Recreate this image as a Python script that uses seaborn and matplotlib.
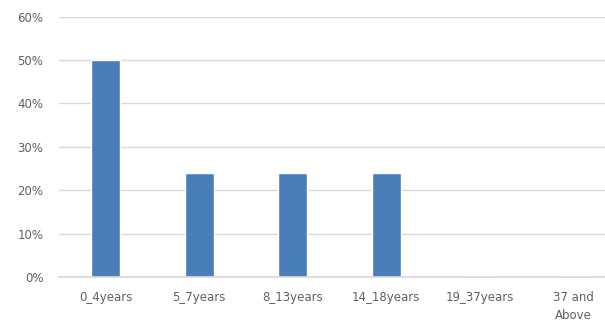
import matplotlib
matplotlib.use("Agg")
import matplotlib.pyplot as plt
import seaborn as sns
import pandas as pd
from matplotlib.ticker import FuncFormatter

categories = ["0_4years", "5_7years", "8_13years", "14_18years", "19_37years", "37 and\nAbove"]
values = [50, 24, 24, 24, 0, 0]
yticks = [0, 10, 20, 30, 40, 50, 60]

df = pd.DataFrame({"cat": categories, "val": values})

sns.set_theme(style="white")
plt.rcParams['font.family'] = ['DejaVu Sans']

fig = plt.figure(figsize=(6.05, 3.25), dpi=100)
left_px, right_px = 58.75, 620
ax = fig.add_axes([left_px/605, 1-277/325, (right_px-left_px)/605, (277-16.5)/325])
sns.barplot(data=df, x="cat", y="val", color="#4a7ebb", saturation=1, width=0.31, ax=ax)
ax.set_xlim(-0.5, len(categories)-0.5)
ax.set_ylim(0, 60)
ax.set_yticks(yticks)
ax.yaxis.set_major_formatter(FuncFormatter(lambda v, p: f"{int(v)}%"))
ax.grid(axis="y", color="#d9d9d9", linewidth=1)
ax.set_axisbelow(True)
for s in ["top", "right", "left"]:
    ax.spines[s].set_visible(False)
ax.spines["bottom"].set_color("#d9d9d9")
ax.tick_params(axis="y", length=0, labelsize=8.5, colors="#606060", pad=11)
ax.tick_params(axis="x", length=0, labelsize=8.5, colors="#606060", pad=10)
for lbl in ax.get_xticklabels():
    lbl.set_linespacing(1.5)
ax.set_xlabel("")
ax.set_ylabel("")
fig.savefig("out.png", dpi=100)
